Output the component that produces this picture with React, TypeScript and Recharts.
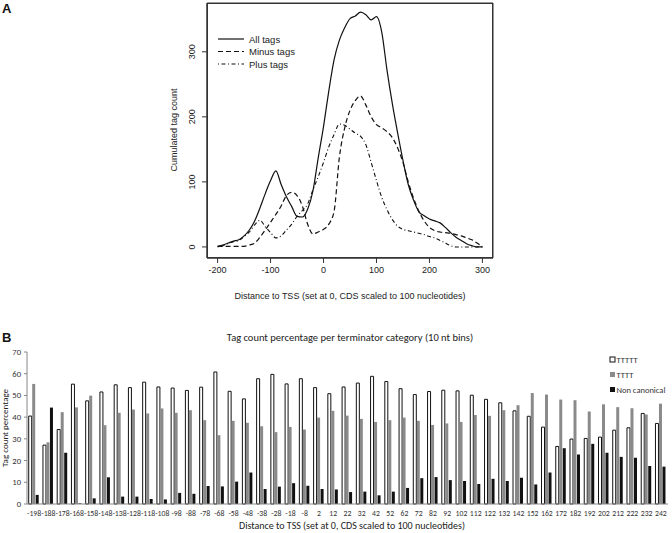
import { LineChart, Line, XAxis, YAxis, BarChart, Bar, Legend, CartesianGrid } from "recharts";

// Panel A: smoothed cumulated tag counts
const DISTANCE = [
  -200, -190, -180, -170, -160, -150, -140, -130, -120, -110, -100, -90, -80, -70, -60, -50, -40, -30, -20, -10,
  0, 10, 20, 30, 40, 50, 60, 70, 80, 90, 100, 110, 120, 130, 140, 150, 160, 170, 180, 190,
  200, 210, 220, 230, 240, 250, 260, 270, 280, 290, 300,
];
const ALL_TAGS = [
  1, 3, 6, 9, 11, 17, 26, 40, 60, 82, 102, 117, 96, 77, 62, 47, 46, 58, 86, 137,
  185, 240, 288, 318, 337, 351, 355, 361, 357, 349, 354, 330, 271, 220, 175, 133, 96, 72, 54, 48,
  43, 40, 37, 30, 22, 15, 10, 5, 2, 0, 0,
];
const MINUS_TAGS = [
  1, 1, 1, 1, 1, 1, 3, 6, 15, 26, 38, 50, 63, 79, 84, 79, 63, 35, 20, 23,
  27, 35, 55, 138, 183, 210, 225, 232, 218, 200, 188, 183, 177, 168, 152, 130, 100, 75, 55, 40,
  30, 25, 23, 22, 21, 19, 17, 14, 11, 6, 0,
];
const PLUS_TAGS = [
  0, 2, 5, 8, 10, 16, 23, 34, 41, 31, 22, 14, 17, 26, 35, 47, 56, 66, 88, 108,
  130, 154, 173, 189, 187, 181, 175, 170, 157, 130, 102, 76, 57, 42, 32, 27, 25, 23, 21, 19,
  16, 14, 10, 6, 2, 0, 0, 0, 0, 0, 0,
];
const A_X_TICKS = [-200, -100, 0, 100, 200, 300];
const A_Y_TICKS = [0, 100, 200, 300];
const A_X_DOMAIN = [-220, 320];
const A_Y_DOMAIN = [-17, 375];

// Panel B: tag count percentage per terminator category
const BINS = [
  "-198", "-188", "-178", "-168", "-158", "-148", "-138", "-128", "-118", "-108", "-98", "-88", "-78", "-68", "-58",
  "-48", "-38", "-28", "-18", "-8", "2", "12", "22", "32", "42", "52", "62", "72", "82", "92",
  "102", "112", "122", "132", "142", "152", "162", "172", "182", "192", "202", "212", "222", "232", "242",
];
const TTTTT = [
  40.5, 27.1, 34.3, 55.2, 47.5, 51.6, 54.9, 53.6, 56.1, 53.9, 53.4, 52.3, 53.8, 60.8, 51.9,
  48.4, 57.7, 59.7, 55.3, 57.7, 53.6, 50.8, 53.9, 55.7, 58.8, 56.4, 53.1, 50.4, 51.8, 52.4,
  52.1, 50.1, 48.2, 46.6, 42.9, 40.4, 35.4, 26.5, 29.9, 30.2, 30.8, 34.0, 35.1, 41.7, 37.1,
];
const TTTT = [
  55.3, 28.4, 42.3, 44.5, 49.9, 36.3, 42.0, 43.5, 41.7, 44.0, 42.0, 43.2, 38.6, 31.7, 38.3,
  37.4, 35.8, 33.1, 35.5, 34.3, 39.8, 42.9, 40.7, 39.2, 37.8, 38.6, 39.8, 38.3, 36.4, 37.1,
  37.8, 41.0, 40.6, 43.2, 45.5, 51.1, 50.4, 48.1, 47.8, 42.6, 45.9, 44.6, 44.1, 41.2, 46.2,
];
const NON_CANONICAL = [
  4.2, 44.4, 23.6, 0.3, 2.6, 12.3, 3.4, 3.4, 2.3, 2.1, 5.1, 4.7, 8.3, 8.1, 10.3,
  14.5, 6.9, 8.0, 9.6, 8.4, 6.9, 6.7, 5.5, 5.7, 4.0, 5.7, 7.4, 11.9, 12.4, 11.0,
  10.6, 9.2, 11.6, 10.6, 12.1, 9.0, 14.5, 25.7, 22.8, 27.7, 23.6, 21.7, 21.3, 17.5, 17.2,
];
const B_Y_TICKS = [0, 10, 20, 30, 40, 50, 60, 70];
const B_SERIES = ["TTTTT", "TTTT", "Non canonical"];

const R_FONT = "'Liberation Sans', Arial, sans-serif";
const XL_FONT = "Carlito, Lato, 'Open Sans', sans-serif";

const curveData = DISTANCE.map((d, i) => ({
  d,
  all: ALL_TAGS[i],
  minus: MINUS_TAGS[i],
  plus: PLUS_TAGS[i],
}));

const binData = BINS.map((b, i) => ({
  bin: b,
  t5: TTTTT[i],
  t4: TTTT[i],
  nc: NON_CANONICAL[i],
}));

function RotatedTick({ y, payload }: any) {
  return (
    <text x={195} y={y} transform={`rotate(-90 195 ${y})`} textAnchor="middle" fontSize={9} fill="#222" fontFamily={R_FONT}>
      {payload.value}
    </text>
  );
}

// narrow Calibri-like bin labels: squeeze glyphs so neighbours just touch
function BinTick({ x, y, payload }: any) {
  const s = String(payload.value);
  const len = s.split("").reduce((w, c) => w + (c === "-" ? 2.5 : 3.9), 0);
  return (
    <text x={x} y={y} dy={6.5} textAnchor="middle" fontSize={8.4} fill="#333" fontFamily={XL_FONT} textLength={len} lengthAdjust="spacingAndGlyphs">
      {s}
    </text>
  );
}

function CurveLegend({ payload }: any) {
  return (
    <svg width={110} height={42}>
      {(payload || []).map((p: any, i: number) => (
        <g key={p.value}>
          <line x1={2} x2={28} y1={6 + i * 12.5} y2={6 + i * 12.5} stroke="#111" strokeWidth={1.2} strokeDasharray={p.payload?.strokeDasharray} />
          <text x={33} y={9.5 + i * 12.5} fontSize={9.5} fill="#222" fontFamily={R_FONT}>{p.value}</text>
        </g>
      ))}
    </svg>
  );
}

function BinLegend({ payload }: any) {
  return (
    <svg width={70} height={40}>
      {(payload || []).map((p: any, i: number) => (
        <g key={p.value}>
          <rect x={1} y={2 + i * 15} width={5} height={5} fill={p.payload?.fill} stroke={p.payload?.stroke || "none"} strokeWidth={1} />
          <text x={7.5} y={7.8 + i * 15} fontSize={8.5} fill="#333" fontFamily={XL_FONT}>{p.value}</text>
        </g>
      ))}
    </svg>
  );
}

// box edges of the plot region (R draws a full frame)
const frameH = ({ offset }: any) => [offset.top, offset.top + offset.height];
const frameV = ({ offset }: any) => [offset.left, offset.left + offset.width];

export default function App() {
  return (
    <div style={{ position: "absolute", left: 0, top: 0, width: 672, height: 533, background: "#fff", overflow: "hidden" }}>
      <div style={{ position: "absolute", left: 0, top: 0 }}>
        <LineChart width={672} height={310} data={curveData} margin={{ top: 3, right: 179, bottom: 0, left: 0 }}>
          <CartesianGrid
            stroke="#333"
            strokeWidth={1}
            horizontalCoordinatesGenerator={frameH}
            verticalCoordinatesGenerator={frameV}
          />
          <XAxis
            dataKey="d"
            type="number"
            domain={A_X_DOMAIN}
            ticks={A_X_TICKS}
            allowDataOverflow
            height={52}
            tickSize={5}
            tickMargin={4}
            stroke="#333"
            tick={{ fontSize: 9, fill: "#222", fontFamily: R_FONT }}
          />
          <YAxis
            type="number"
            domain={A_Y_DOMAIN}
            ticks={A_Y_TICKS}
            allowDataOverflow
            width={207}
            tickSize={5}
            stroke="#333"
            tick={<RotatedTick />}
          />
          <Legend
            layout="vertical"
            align="center"
            verticalAlign="middle"
            content={<CurveLegend />}
            wrapperStyle={{ position: "absolute", left: 216, top: 33, width: 110, height: 42 }}
          />
          <Line name="All tags" dataKey="all" type="monotone" stroke="#111" strokeWidth={1.2} dot={false} isAnimationActive={false} />
          <Line name="Minus tags" dataKey="minus" type="monotone" stroke="#111" strokeWidth={1.2} strokeDasharray="5 3" dot={false} isAnimationActive={false} />
          <Line name="Plus tags" dataKey="plus" type="monotone" stroke="#111" strokeWidth={1.1} strokeDasharray="1 2.5 4 2.5" dot={false} isAnimationActive={false} />
        </LineChart>
      </div>
      {/* fallback frame in case the grid edges are dropped */}
      <div style={{ position: "absolute", left: 207, top: 3, width: 286, height: 255, boxSizing: "border-box", border: "1px solid #333", pointerEvents: "none", zIndex: 5 }} />

      <div style={{ position: "absolute", left: 0, top: 340 }}>
        <BarChart width={672} height={193} data={binData} margin={{ top: 12, right: 4, bottom: 0, left: 0 }} barCategoryGap="12%" barGap={0.5}>
          <XAxis
            dataKey="bin"
            interval={0}
            height={29}
            tickSize={0}
            tickMargin={5}
            stroke="#888"
            tick={<BinTick />}
          />
          <YAxis
            type="number"
            domain={[0, 70]}
            ticks={B_Y_TICKS}
            width={27}
            tickSize={3}
            tickMargin={3}
            stroke="#888"
            tick={{ fontSize: 8.6, fill: "#333", fontFamily: XL_FONT }}
          />
          <Legend
            layout="vertical"
            align="center"
            verticalAlign="middle"
            itemSorter={(item: any) => B_SERIES.indexOf(item.value)}
            content={<BinLegend />}
            wrapperStyle={{ position: "absolute", left: 609, top: 15, width: 70, height: 40 }}
          />
          <Bar name="TTTTT" dataKey="t5" fill="#fff" stroke="#111" strokeWidth={1} isAnimationActive={false} />
          <Bar name="TTTT" dataKey="t4" fill="#8a8a8a" isAnimationActive={false} />
          <Bar name="Non canonical" dataKey="nc" fill="#111" isAnimationActive={false} />
        </BarChart>
      </div>

      <svg width={672} height={533} style={{ position: "absolute", left: 0, top: 0, pointerEvents: "none" }}>
        <text x={2} y={13} fontSize={13} fontWeight="bold" fontFamily={R_FONT} fill="#111">A</text>
        <text x={175} y={130} transform="rotate(-90 175 130)" textAnchor="middle" dominantBaseline="middle" fontSize={9} fill="#222" fontFamily={R_FONT}>
          Cumulated tag count
        </text>
        <text x={350} y={297} textAnchor="middle" dominantBaseline="middle" fontSize={9} fill="#222" fontFamily={R_FONT}>
          Distance to TSS (set at 0, CDS scaled to 100 nucleotides)
        </text>

        <text x={2} y={342} fontSize={13} fontWeight="bold" fontFamily={R_FONT} fill="#111">B</text>
        <text x={350} y={338} textAnchor="middle" dominantBaseline="middle" fontSize={10.5} fill="#222" fontFamily={XL_FONT}>
          Tag count percentage per terminator category (10 nt bins)
        </text>
        <text x={6} y={428} transform="rotate(-90 6 428)" textAnchor="middle" dominantBaseline="middle" fontSize={9} fill="#222" fontFamily={XL_FONT}>
          Tag count percentage
        </text>
        <text x={352} y={527} textAnchor="middle" dominantBaseline="middle" fontSize={10} fill="#222" fontFamily={XL_FONT}>
          Distance to TSS (set at 0, CDS scaled to 100 nucleotides)
        </text>
      </svg>
    </div>
  );
}
